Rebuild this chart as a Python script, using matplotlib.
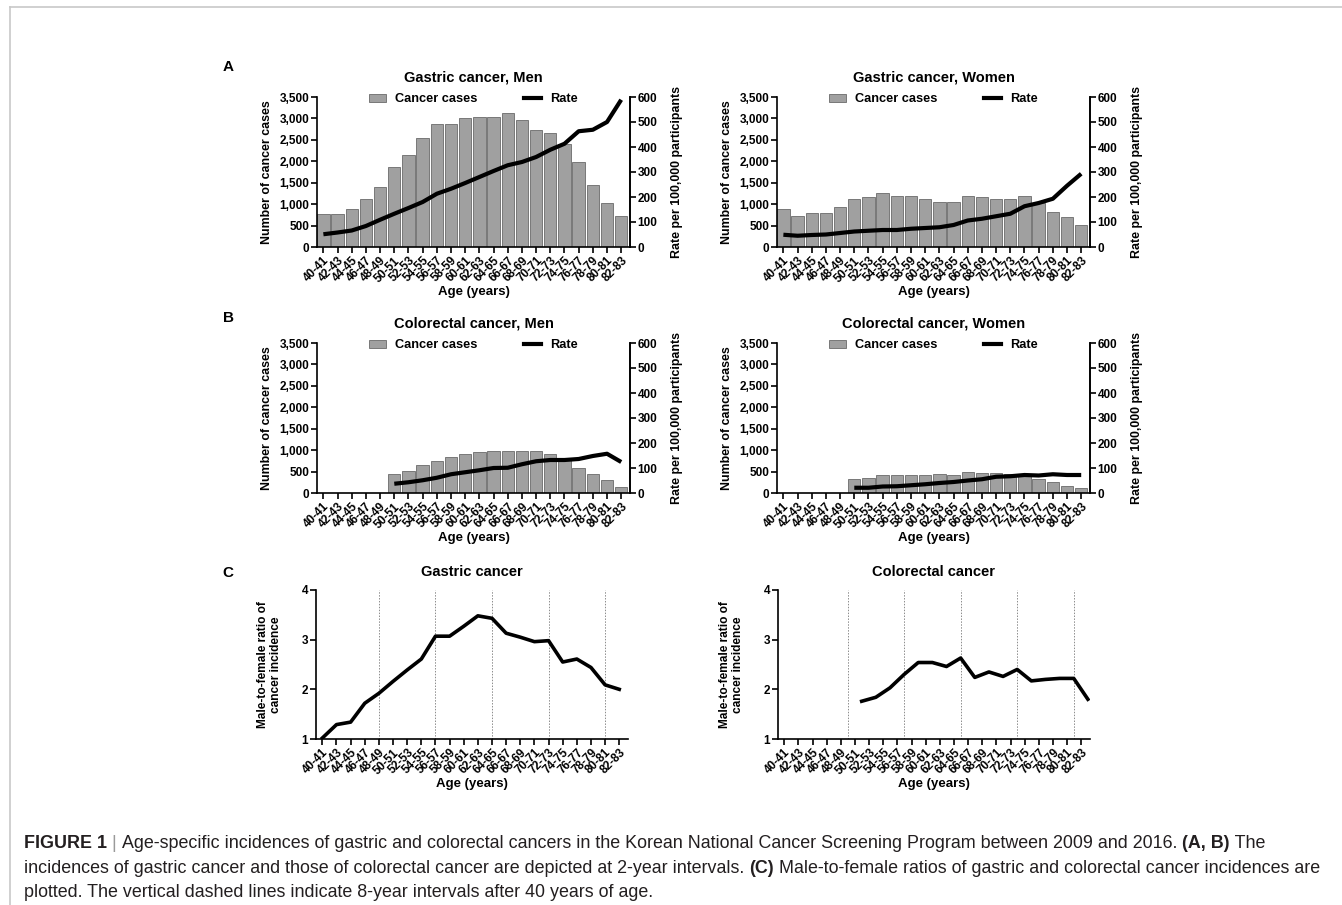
import numpy as np
import matplotlib
matplotlib.use("Agg")
import matplotlib.pyplot as plt
from matplotlib.lines import Line2D
from matplotlib.patches import Patch

plt.rcParams["font.family"] = ["Liberation Sans", "DejaVu Sans"]
plt.rcParams["font.weight"] = "bold"
plt.rcParams["axes.labelweight"] = "bold"
plt.rcParams["axes.titleweight"] = "bold"

# Age groups (2-year intervals)
ages = ["40-41", "42-43", "44-45", "46-47", "48-49", "50-51", "52-53", "54-55",
        "56-57", "58-59", "60-61", "62-63", "64-65", "66-67", "68-69", "70-71",
        "72-73", "74-75", "76-77", "78-79", "80-81", "82-83"]

# Gastric cancer
gastric_men_cases = [770, 770, 880, 1110, 1400, 1860, 2150, 2540, 2860, 2880, 3000,
                     3040, 3040, 3130, 2960, 2740, 2670, 2400, 1980, 1440, 1020, 720]
gastric_men_rate = [51, 58, 66, 84, 109, 133, 156, 180, 213, 233, 256,
                    280, 304, 327, 340, 360, 389, 413, 463, 469, 500, 589]
gastric_women_cases = [890, 730, 790, 790, 940, 1110, 1160, 1270, 1200, 1180, 1120,
                       1040, 1050, 1180, 1160, 1130, 1130, 1200, 1020, 810, 690, 510]
gastric_women_rate = [49, 45, 48, 50, 56, 62, 65, 68, 68, 73, 76,
                      79, 88, 106, 113, 123, 133, 163, 176, 193, 245, 293]

# Colorectal cancer (screening starts at 50)
colorectal_men_cases = [None, None, None, None, None, 440, 510, 645, 740, 850, 900,
                        945, 990, 980, 990, 980, 910, 770, 575, 440, 300, 140]
colorectal_men_rate = [None, None, None, None, None, 37, 43, 51, 61, 75, 83,
                       91, 100, 101, 115, 127, 132, 132, 136, 148, 157, 124]
colorectal_women_cases = [None, None, None, None, None, 320, 350, 410, 410, 410, 410,
                          440, 425, 480, 465, 475, 440, 400, 330, 250, 165, 105]
colorectal_women_rate = [None, None, None, None, None, 21, 21, 26, 27, 31, 35,
                         40, 44, 50, 55, 65, 67, 72, 70, 75, 72, 72]

# Male-to-female ratios
gastric_ratio = [1.02, 1.29, 1.34, 1.72, 1.92, 2.16, 2.39, 2.61, 3.07, 3.07, 3.27,
                 3.48, 3.43, 3.13, 3.05, 2.96, 2.98, 2.55, 2.61, 2.44, 2.09, 2.00]
colorectal_ratio = [None, None, None, None, None, 1.76, 1.84, 2.03, 2.30, 2.54, 2.54,
                    2.46, 2.63, 2.24, 2.35, 2.26, 2.40, 2.17, 2.20, 2.22, 2.22, 1.80]

dash_groups = [4, 8, 12, 16, 20]

W, H = 1342, 905
fig = plt.figure(figsize=(W / 100, H / 100), dpi=100)

bar_color = "#a0a0a0"
bar_edge = "#6a6a6a"
spine_w = 1.2
x = np.arange(len(ages))


def px_axes(left, top, right, bottom):
    return fig.add_axes([left / W, 1 - bottom / H, (right - left) / W, (bottom - top) / H])


def style_axis(ax, right=False):
    for s in ["top"] + ([] if right else ["right"]):
        ax.spines[s].set_visible(False)
    for s in ax.spines.values():
        s.set_linewidth(spine_w)
    ax.tick_params(width=spine_w, length=4, labelsize=8.5, pad=1.5)
    for lab in ax.get_yticklabels():
        lab.set_fontweight("bold")


def set_age_ticks(ax):
    ax.set_xticks(x)
    ax.set_xticklabels(ages, rotation=45, ha="right", rotation_mode="anchor",
                       fontsize=8.4, fontweight="bold")
    ax.set_xlim(-0.45, 21.62)
    ax.set_xlabel("Age (years)", fontsize=9.5, labelpad=1)


def valid(vals):
    idx = [i for i, v in enumerate(vals) if v is not None]
    return np.array(idx), np.array([vals[i] for i in idx])


def cases_panel(left, top, right, bottom, title, cases, rate):
    ax = px_axes(left, top, right, bottom)
    ci, cv = valid(cases)
    ax.bar(ci, cv, width=0.87, color=bar_color, edgecolor=bar_edge, linewidth=0.6, zorder=2)
    ax.set_ylim(0, 3500)
    ax.set_yticks(np.arange(0, 3501, 500))
    ax.set_yticklabels([f"{v:,}" for v in range(0, 3501, 500)])
    ax.set_ylabel("Number of cancer cases", fontsize=8.9, labelpad=5)
    set_age_ticks(ax)
    style_axis(ax, right=True)
    ax.set_title(title, fontsize=10.5, pad=11)

    ax2 = ax.twinx()
    ri, rv = valid(rate)
    ax2.plot(ri, rv, color="black", linewidth=3, solid_capstyle="butt", zorder=3)
    ax2.set_ylim(0, 600)
    ax2.set_yticks(np.arange(0, 601, 100))
    ax2.set_ylabel("Rate per 100,000 participants", fontsize=8.9, labelpad=10)
    for s in ["top", "left", "bottom"]:
        ax2.spines[s].set_visible(False)
    ax2.spines["right"].set_linewidth(spine_w)
    ax2.tick_params(width=spine_w, length=4, labelsize=8.5, pad=1.5)
    for lab in ax2.get_yticklabels():
        lab.set_fontweight("bold")

    handles = [Patch(facecolor=bar_color, edgecolor=bar_edge, linewidth=0.6),
               Line2D([], [], color="black", linewidth=3)]
    ax2.legend(handles, ["Cancer cases", "Rate"], loc="center", bbox_to_anchor=(0.5, 0.985),
               ncol=2, frameon=False, handlelength=1.35, handleheight=0.6,
               columnspacing=3.6, handletextpad=0.7, borderpad=0,
               prop={"weight": "bold", "size": 9.2})
    return ax


def ratio_panel(left, top, right, bottom, title, ratio, offset):
    ax = px_axes(left, top, right, bottom)
    ri, rv = valid(ratio)
    ax.plot(ri + offset, rv, color="black", linewidth=2.6, zorder=3)
    for g in dash_groups:
        ax.axvline(g + offset, color="#8c8c8c", linestyle=(0, (1.5, 1.5)), linewidth=0.7, zorder=1)
    ax.set_ylim(1, 4)
    ax.set_yticks([1, 2, 3, 4])
    ax.set_ylabel("Male-to-female ratio of\ncancer incidence", fontsize=8.6, labelpad=14,
                  linespacing=1.15)
    set_age_ticks(ax)
    style_axis(ax)
    ax.set_title(title, fontsize=10.5, pad=10)
    return ax


cases_panel(317, 97, 630, 247, "Gastric cancer, Men", gastric_men_cases, gastric_men_rate)
cases_panel(777, 97, 1090, 247, "Gastric cancer, Women", gastric_women_cases, gastric_women_rate)
cases_panel(317, 343, 630, 493, "Colorectal cancer, Men", colorectal_men_cases, colorectal_men_rate)
cases_panel(777, 343, 1090, 493, "Colorectal cancer, Women", colorectal_women_cases, colorectal_women_rate)
ratio_panel(316, 590, 628, 739, "Gastric cancer", gastric_ratio, 0.0)
ratio_panel(778, 590, 1090, 739, "Colorectal cancer", colorectal_ratio, 0.47)

# Panel letters
for letter, ypix in [("A", 67), ("B", 318), ("C", 573)]:
    fig.text(228 / W, 1 - ypix / H, letter, fontsize=11, fontweight="bold", ha="center", va="center")

# Frame lines
frame_c = "#c8c8c8"
fig.add_artist(Line2D([9.5 / W, 1], [1 - 7.5 / H, 1 - 7.5 / H], transform=fig.transFigure,
                      color=frame_c, linewidth=1.2))
fig.add_artist(Line2D([9.5 / W, 9.5 / W], [0, 1 - 7.5 / H], transform=fig.transFigure,
                      color=frame_c, linewidth=1.2))

# Caption built from pieces
cap_color = "#231f20"
cap_size = 12.9
caption_lines = [
    [("FIGURE 1", "bold", cap_color), (" | ", "normal", "#9a9a9a"),
     ("Age-specific incidences of gastric and colorectal cancers in the Korean National Cancer "
      "Screening Program between 2009 and 2016. ", "normal", cap_color),
     ("(A, B)", "bold", cap_color), (" The", "normal", cap_color)],
    [("incidences of gastric cancer and those of colorectal cancer are depicted at 2-year intervals. ",
      "normal", cap_color), ("(C)", "bold", cap_color),
     (" Male-to-female ratios of gastric and colorectal cancer incidences are", "normal", cap_color)],
    [("plotted. The vertical dashed lines indicate 8-year intervals after 40 years of age.",
      "normal", cap_color)],
]
renderer = fig.canvas.get_renderer()
for ypix, pieces in zip([843, 868, 892], caption_lines):
    xpix = 24
    for txt, weight, col in pieces:
        t = fig.text(xpix / W, 1 - ypix / H, txt, fontsize=cap_size, fontweight=weight,
                     color=col, ha="left", va="center")
        bb = t.get_window_extent(renderer=renderer)
        xpix += bb.width

fig.savefig("out.png", dpi=100)
